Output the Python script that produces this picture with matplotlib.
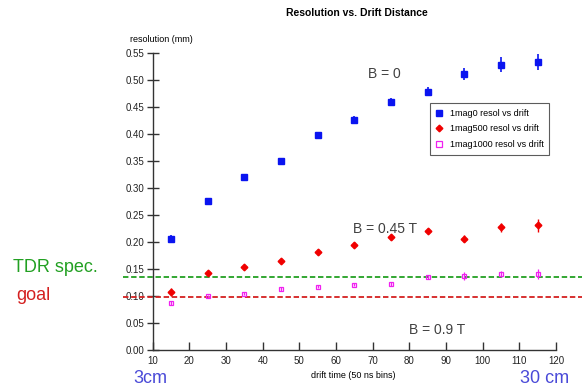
import matplotlib
matplotlib.use("Agg")
import matplotlib.pyplot as plt
import matplotlib.transforms as mtransforms
from matplotlib.lines import Line2D

plt.rcParams['font.family'] = ['Liberation Sans', 'DejaVu Sans']

drift = [15, 25, 35, 45, 55, 65, 75, 85, 95, 105, 115]
res_b0 = [0.206, 0.275, 0.320, 0.349, 0.398, 0.426, 0.459, 0.478, 0.511, 0.528, 0.533]
err_b0 = [0.006, 0.005, 0.005, 0.005, 0.006, 0.006, 0.007, 0.009, 0.011, 0.014, 0.015]
res_b045 = [0.107, 0.142, 0.153, 0.165, 0.181, 0.195, 0.209, 0.221, 0.206, 0.227, 0.231]
err_b045 = [0.008, 0.004, 0.004, 0.004, 0.005, 0.005, 0.005, 0.005, 0.006, 0.008, 0.012]
res_b09 = [0.087, 0.099, 0.104, 0.113, 0.117, 0.121, 0.122, 0.135, 0.137, 0.141, 0.141]
err_b09 = [0.004, 0.003, 0.003, 0.003, 0.003, 0.003, 0.003, 0.004, 0.007, 0.006, 0.009]
series_labels = ["1mag0 resol vs drift", "1mag500 resol vs drift", "1mag1000 resol vs drift"]
tdr_spec = 0.135
goal = 0.0975

c_blue = '#0a14f0'
c_red = '#f00000'
c_mag = '#f020f0'

fig = plt.figure(figsize=(5.88, 3.91), dpi=100)
ax = fig.add_axes([0.2597, 0.1049, 0.6859, 0.7603])

ax.errorbar(drift, res_b0, yerr=err_b0, fmt='s', color=c_blue, ms=4.6,
            elinewidth=1.2, capsize=0, zorder=3)
ax.errorbar(drift, res_b045, yerr=err_b045, xerr=0.6, fmt='D', color=c_red, ms=3.4,
            elinewidth=1.0, capsize=0, zorder=3)
ax.errorbar(drift, res_b09, yerr=err_b09, fmt='s', color=c_mag, mfc='none', ms=3.2,
            mew=0.9, elinewidth=0.9, capsize=0, zorder=3)

ax.set_xlim(10, 120)
ax.set_ylim(0, 0.55)
ax.set_xticks(range(10, 121, 10))
ax.set_yticks([i * 0.05 for i in range(12)])
ax.set_yticklabels([f"{i*0.05:.2f}" for i in range(12)])
for s in ['top', 'right']:
    ax.spines[s].set_visible(False)
for s in ['left', 'bottom']:
    ax.spines[s].set_color('#333333')
    ax.spines[s].set_linewidth(1.0)
ax.tick_params(axis='y', direction='inout', length=8, width=1.0, labelsize=7, pad=2,
               color='#333333', labelcolor='#222222')
ax.tick_params(axis='x', direction='in', length=6, width=1.0, labelsize=7, pad=4,
               color='#333333', labelcolor='#222222')

trans = mtransforms.blended_transform_factory(ax.transAxes, ax.transData)
ax.plot([-0.074, 1.065], [tdr_spec, tdr_spec], transform=trans, clip_on=False,
        color='#22a022', lw=1.3, ls=(0, (3, 1.5)), zorder=2)
ax.plot([-0.074, 1.065], [goal, goal], transform=trans, clip_on=False,
        color='#d42020', lw=1.3, ls=(0, (3, 1.5)), zorder=2)

ax.text(68.8, 0.51, "B = 0", fontsize=10, color='#404040', ha='left', va='center')
ax.text(64.7, 0.223, "B = 0.45 T", fontsize=10, color='#404040', ha='left', va='center')
ax.text(79.8, 0.037, "B = 0.9 T", fontsize=10, color='#404040', ha='left', va='center')

handles = [
    Line2D([], [], ls='none', marker='s', color=c_blue, ms=4.6),
    Line2D([], [], ls='none', marker='D', color=c_red, ms=3.4),
    Line2D([], [], ls='none', marker='s', color=c_mag, mfc='none', ms=4.2, mew=0.9),
]
leg = ax.legend(handles, series_labels, loc='upper left', bbox_to_anchor=(0.688, 0.83),
                fontsize=6.5, frameon=True, fancybox=False, edgecolor='#333333',
                handlelength=0.8, handletextpad=0.8, borderpad=0.6, labelspacing=0.75,
                borderaxespad=0)
leg.get_frame().set_linewidth(0.8)

fig.text(0.607, 0.968, "Resolution vs. Drift Distance", fontsize=7.5, fontweight='bold',
         ha='center', va='center')
fig.text(0.221, 0.900, "resolution (mm)", fontsize=6.5, ha='left', va='center')
fig.text(0.600, 0.040, "drift time (50 ns bins)", fontsize=6.5, ha='center', va='center')

fig.text(0.022, 0.315, "TDR spec.", fontsize=13, color='#22a022', ha='left', va='center')
fig.text(0.028, 0.243, "goal", fontsize=13, color='#d42020', ha='left', va='center')
fig.text(0.226, 0.032, "3cm", fontsize=13, color='#4a4ad8', ha='left', va='center')
fig.text(0.885, 0.032, "30 cm", fontsize=13, color='#4a4ad8', ha='left', va='center')

fig.savefig("out.png", dpi=100)
